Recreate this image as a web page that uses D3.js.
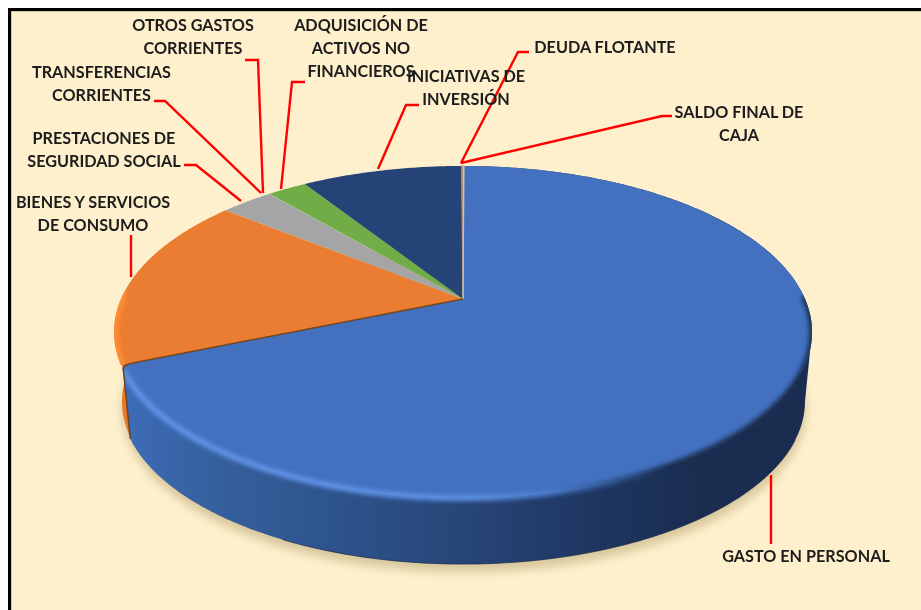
<!DOCTYPE html>
<html><head><meta charset="utf-8">
<script src="https://cdn.jsdelivr.net/npm/d3@7"></script>
<style>html,body{margin:0;padding:0;background:#fff;overflow:hidden}svg{display:block}</style>
</head><body><svg id="c" width="921" height="610"></svg>
<script>
// Data
const categories = ["GASTO EN PERSONAL","BIENES Y SERVICIOS DE CONSUMO","PRESTACIONES DE SEGURIDAD SOCIAL","TRANSFERENCIAS CORRIENTES","OTROS GASTOS CORRIENTES","ADQUISICIÓN DE ACTIVOS NO FINANCIEROS","INICIATIVAS DE INVERSIÓN","DEUDA FLOTANTE","SALDO FINAL DE CAJA"];
const values = [68.7,17.0,2.94,0.02,0.02,2.2,9.0,0.1,0.05];
const topColors = ["#4371bf","#ea7d31","#a5a5a5","#ffc000","#5b9bd5","#70ad47","#254377","#b5835a","#c9c4b4"];

// Label layout (separate from the data)
const labelLines = [["GASTO EN PERSONAL"],["BIENES Y SERVICIOS","DE CONSUMO"],["PRESTACIONES DE","SEGURIDAD SOCIAL"],["TRANSFERENCIAS","CORRIENTES"],["OTROS GASTOS","CORRIENTES"],["ADQUISICIÓN DE","ACTIVOS NO","FINANCIEROS"],["INICIATIVAS DE","INVERSIÓN"],["DEUDA FLOTANTE"],["SALDO FINAL DE","CAJA"]];
const labelX = [806,93,104,101.5,193,361,466,605,739];
const labelY = [562,208,144,78,31,31,82,53,118];
const leaderBends = [[[771,544]],[[131,235]],[[196,165],[184,165]],[[165,101],[154,101]],[[258,60],[245,60]],[[292,82],[305,82]],[[406,105],[419,105]],[[518,52],[529,52]],[[662,116],[672,116]]];
const leaderStart = [[771,475],[131,277],[241,201],[261,193],[263,193],[281,189],[378,169],[461,163],[461,163]];

const svg = d3.select("#c");
const defs = svg.append("defs");
const W=921,H=610;

// perspective disc
const apex={x:463,y:299}, A=342, B=159.5, P=0.1988, depth=70, lowerK=0.98;
function proj(theta,r=1,lower=false){
  const u=Math.sin(theta)*r, v=-Math.cos(theta)*r, s=1/(1-P*v), k=lower?lowerK:1;
  return [apex.x+A*u*s*k, apex.y+B*v*s*k+(lower?depth:0)];
}
const line=d3.line();
const arcPts=(a0,a1,lower=false)=>{
  const n=Math.max(2,Math.ceil(Math.abs(a1-a0)/0.01));
  return d3.range(n+1).map(i=>proj(a0+(a1-a0)*i/n,1,lower));
};
const pie=d3.pie().sort(null).startAngle(0.004).endAngle(0.004+2*Math.PI)(values);

// frame
svg.append("rect").attr("width",W).attr("height",H).attr("fill","#fff");
svg.append("rect").attr("x",8).attr("y",8).attr("width",W).attr("height",H).attr("fill","#fef0cd");
svg.append("path").attr("d","M11,"+H+"V11H"+W).attr("fill","none").attr("stroke","#a89c7c").attr("stroke-width",1);
svg.append("path").attr("d","M9.5,"+H+"V9.5H"+W).attr("fill","none").attr("stroke","#000").attr("stroke-width",3);

// gradients + filters
const mkGrad=(id,x1,x2,stops)=>{const g=defs.append("linearGradient").attr("id",id).attr("gradientUnits","userSpaceOnUse").attr("x1",x1).attr("x2",x2).attr("y1",0).attr("y2",0);
 stops.forEach(s=>g.append("stop").attr("offset",s[0]).attr("stop-color",s[1]));};
mkGrad("wallBlue",125,806,[[0,"#3d6cb8"],[0.12,"#36619f"],[0.34,"#2c5189"],[0.5,"#274577"],[0.7,"#1e3560"],[0.85,"#1a2d50"],[1,"#1a2d50"]]);
mkGrad("bevelBlue",125,806,[[0,"#5f93e8"],[0.5,"#5d90e6"],[0.62,"#4a7ccb"],[0.72,"#2c4f87"],[0.8,"#1a2d50"],[1,"#1a2d50"]]);
[["blur5",5],["blur3",2.2],["blur1",0.35]].forEach(([id,s])=>{defs.append("filter").attr("id",id).attr("x","-10%").attr("y","-10%").attr("width","120%").attr("height","120%").append("feGaussianBlur").attr("stdDeviation",s);});

const blue=pie[0], orange=pie[1];
const a0=blue.startAngle,a1=blue.endAngle,a2=orange.endAngle;
const taper=0.03, thetaE=Math.acos(-P);

// shadow
const fullLower=d3.range(0,2*Math.PI,0.02).map(t=>proj(t,1,true));
svg.append("path").attr("d",line(fullLower)+"Z").attr("transform","translate(1,8)").attr("fill","#d8c79c").attr("filter","url(#blur5)");

// walls
const wall=(s,e,s2)=>line(arcPts(s,e).concat(arcPts(e,s2===undefined?s:s2,true)))+"Z";
const cornerLowAngle=a1-taper;
svg.append("path").attr("d",wall(a1,a1+0.42,cornerLowAngle)).attr("transform","translate(1,0)").attr("fill","#e8782a");
svg.append("path").attr("d",wall(a0,cornerLowAngle)).attr("fill","url(#wallBlue)");
// convex bridge on the right silhouette
svg.append("path").attr("d",line([proj(thetaE),proj(thetaE,1,true),proj(thetaE+0.5),proj(thetaE-0.1)])+"Z").attr("fill","#1a2d50");
// dark line under the wall
svg.append("path").attr("d",line(arcPts(2.0,3.6,true))).attr("fill","none").attr("stroke","#16264a").attr("stroke-width",1).attr("opacity",0.7);

// top face; the blue slice has a rounded outer corner next to the orange slice
const cornerR=proj(a1,0.965), cornerC=proj(a1,1);
const topPath=(d,i)=>{
  if(i===0){
    const pts=arcPts(d.startAngle,d.endAngle-taper);
    return line([[apex.x,apex.y]].concat(pts))+"Q"+cornerC[0]+","+cornerC[1]+" "+cornerR[0]+","+cornerR[1]+"Z";
  }
  return line([[apex.x,apex.y]].concat(arcPts(d.startAngle,d.endAngle)))+"Z";
};
svg.append("g").selectAll("path").data(pie).join("path")
  .attr("d",topPath)
  .attr("fill",(d,i)=>topColors[i])
  .attr("stroke",(d,i)=>i>=7?topColors[i]:"none")
  .attr("stroke-width",0.9);
// redraw orange under corner gap with wall colour blending
// orange rim highlight
defs.append("clipPath").attr("id","orClip").append("path").attr("d",line([[apex.x,apex.y]].concat(arcPts(a1,a2)))+"Z");
svg.append("g").attr("clip-path","url(#orClip)").append("path").attr("d",line(arcPts(a1,a1+0.45))).attr("fill","none").attr("stroke","#ff8c35").attr("stroke-width",9).attr("filter","url(#blur3)");

// blue rim bevel
const clipD=line(arcPts(a0,cornerLowAngle).concat(arcPts(cornerLowAngle,a0,true)))+"Z"+topPath(blue,0);
defs.append("clipPath").attr("id","blClip").append("path").attr("d",clipD);
svg.append("g").attr("clip-path","url(#blClip)").append("path").attr("d",line(arcPts(1.55,a1-taper)))
  .attr("fill","none").attr("stroke","url(#bevelBlue)").attr("stroke-width",6).attr("filter","url(#blur3)");

// dark cut edges on the blue / orange boundary
const cornerLow=proj(cornerLowAngle,1,true), cornerTop=proj(a1-taper);
svg.append("path").attr("d",line([[apex.x,apex.y],cornerR])+"Q"+cornerC[0]+","+cornerC[1]+" "+cornerTop[0]+","+cornerTop[1]+"L"+cornerLow[0]+","+cornerLow[1])
  .attr("fill","none").attr("stroke","#6b3c12").attr("stroke-width",1.5).attr("opacity",0.85);

// leaders
svg.append("g").selectAll("path").data(categories).join("path")
  .attr("d",(d,i)=>line([leaderStart[i]].concat(leaderBends[i])))
  .attr("fill","none").attr("stroke","#fe0000").attr("stroke-width",2.4);

// labels
const lab=svg.append("g").attr("font-family","Lato, sans-serif").attr("font-weight",700).attr("font-size",16.2).attr("fill","#1c1c1c").attr("text-anchor","middle").attr("filter","url(#blur1)");
categories.forEach((c,i)=>{
  labelLines[i].forEach((t,j)=>{
    lab.append("text").attr("x",labelX[i]).attr("y",labelY[i]+j*23).text(t);
  });
});
</script></body></html>
